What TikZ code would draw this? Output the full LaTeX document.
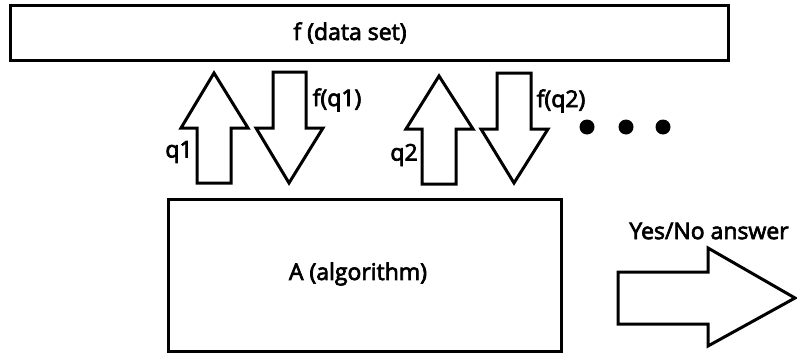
\documentclass[tikz,border=0pt]{standalone}
\usepackage{fontspec}
\setmainfont{Open Sans}
\newfontfamily\lblfont[FakeBold=3]{Open Sans}
\begin{document}
\begin{tikzpicture}[x=1pt,y=-1pt,
  outline/.style={draw=black,line width=3pt,fill=white,line join=miter},
  lbl/.style={font=\lblfont\fontsize{23}{26}\selectfont,text=black,inner sep=0pt},
  dot/.style={circle,fill=black,minimum size=15pt,inner sep=0pt}]
\useasboundingbox (0,0) rectangle (797,356);

% data set and algorithm boxes
\draw[outline] (10,5) rectangle (728,60);
\node[lbl] (data) at (350,33) {f (data set)};
\draw[outline] (168,199) rectangle (561,351);
\node[lbl] (alg) at (358,274) {A (algorithm)};

% query arrows (up) and answer arrows (down)
\draw[outline] (214,73) -- (248,128) -- (231,128) -- (231,183) -- (197,183) -- (197,128) -- (181,128) -- cycle;
\draw[outline] (273,72) -- (306,72) -- (306,128) -- (323,128) -- (289,183) -- (256,128) -- (273,128) -- cycle;
\draw[outline] (439,76) -- (473,129) -- (456,129) -- (456,184) -- (422,184) -- (422,129) -- (406,129) -- cycle;
\draw[outline] (497,73) -- (531,73) -- (531,129) -- (548,129) -- (514,183) -- (481,129) -- (497,129) -- cycle;

\node[lbl] (q1) at (179,152) {q1};
\node[lbl] (fq1) at (337,100) {f(q1)};
\node[lbl] (q2) at (404,155) {q2};
\node[lbl] (fq2) at (561,101) {f(q2)};

% ellipsis
\node[dot] (d1) at (587,127) {};
\node[dot] (d2) at (626,127) {};
\node[dot] (d3) at (663,127) {};

% output arrow
\draw[outline] (618,272) -- (708,272) -- (708,248) -- (795,298) -- (708,346) -- (708,324) -- (618,324) -- cycle;
\node[lbl] (ans) at (709,231) {Yes/No answer};
\end{tikzpicture}
\end{document}
